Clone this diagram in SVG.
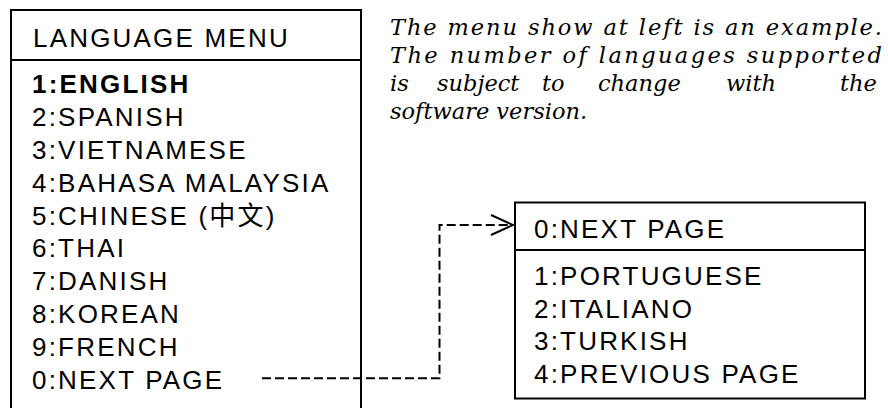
<svg xmlns="http://www.w3.org/2000/svg" width="888" height="408" viewBox="0 0 888 408">
<defs>
<style>
.box{fill:#fff;stroke:#000;stroke-width:2}
.sep{stroke:#000;stroke-width:2}
.t{font-family:"Liberation Sans","Noto Sans CJK SC",Arial,sans-serif;font-size:26px;letter-spacing:2.2px;fill:#000}
.b{font-weight:bold}
.note{font-family:"DejaVu Serif","Liberation Serif",serif;font-style:italic;font-size:22.5px;fill:#000}
.conn{fill:none;stroke:#000;stroke-width:2;stroke-dasharray:9 4}
.arrow{fill:none;stroke:#000;stroke-width:2}
</style>
</defs>
<rect width="888" height="408" fill="#fff"/>
<g id="language-menu">
<rect class="box" x="11" y="10" width="350" height="420"/>
<line class="sep" x1="11" y1="60" x2="361" y2="60"/>
<text class="t" x="33" y="47">LANGUAGE MENU</text>
<text class="t b" x="32" y="93.3">1:ENGLISH</text>
<text class="t" x="32" y="126.1">2:SPANISH</text>
<text class="t" x="32" y="158.9">3:VIETNAMESE</text>
<text class="t" x="32" y="191.7">4:BAHASA MALAYSIA</text>
<text class="t" x="32" y="224.5">5:CHINESE (中文)</text>
<text class="t" x="32" y="257.3">6:THAI</text>
<text class="t" x="32" y="290.1">7:DANISH</text>
<text class="t" x="32" y="322.9">8:KOREAN</text>
<text class="t" x="32" y="355.7">9:FRENCH</text>
<text class="t" x="32" y="388.5">0:NEXT PAGE</text>
</g>
<g id="next-page-menu">
<rect class="box" x="515" y="202.5" width="350" height="196"/>
<line class="sep" x1="515" y1="250" x2="865" y2="250"/>
<text class="t" x="534" y="238.3">0:NEXT PAGE</text>
<text class="t" x="534" y="285">1:PORTUGUESE</text>
<text class="t" x="534" y="317.7">2:ITALIANO</text>
<text class="t" x="534" y="350.4">3:TURKISH</text>
<text class="t" x="534" y="383.1">4:PREVIOUS PAGE</text>
</g>
<g id="note">
<text class="note" x="390" y="35" textLength="492" lengthAdjust="spacing">The menu show at left is an example.</text>
<text class="note" x="390" y="63" textLength="492" lengthAdjust="spacing">The number of languages supported</text>
<text class="note" y="91"><tspan x="390">is</tspan><tspan x="437">subject</tspan><tspan x="542">to</tspan><tspan x="598">change</tspan><tspan x="726">with</tspan><tspan x="840">the</tspan></text>
<text class="note" x="390" y="119">software version.</text>
</g>
<g id="connectors">
<polyline class="conn" points="262,378.3 439.5,378.3 439.5,225 511,225"/>
<polyline class="arrow" points="491,215 513,225 491,235"/>
</g>
</svg>
